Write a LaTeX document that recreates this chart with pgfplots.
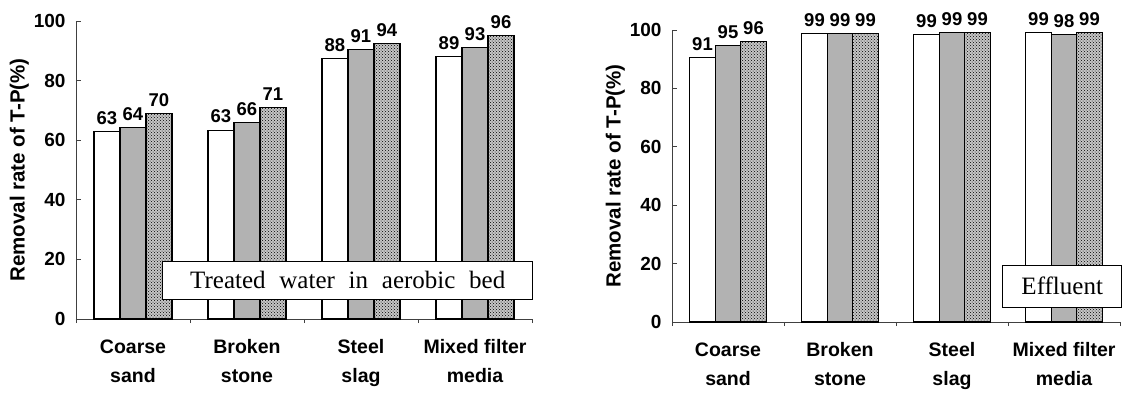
\documentclass[border=0pt]{standalone}
\usepackage{pgfplots}
\usepackage{pgfplotstable}
\pgfplotsset{compat=1.18}
\usetikzlibrary{patterns}
\usepackage{fontspec}
\setmainfont{Liberation Sans}
\newfontfamily\seriffont{Liberation Serif}

\pgfplotstableread{
x a la b lb c lc
0 62.8 63 64.3 64 69.1 70
1 63.4 63 66.0 66 70.9 71
2 87.5 88 90.5 91 92.5 94
3 88.0 89 91.2 93 95.0 96
}\leftdata

\pgfplotstableread{
x a la b lb c lc
0 90.6 91 94.6 95 96.0 96
1 98.7 99 98.7 99 98.7 99
2 98.5 99 99.2 99 99.2 99
3 99.2 99 98.6 98 99.2 99
}\rightdata

\pgfplotsset{
  panel/.style={
    scale only axis,
    axis lines*=left,
    axis line style={black!75, line width=0.8pt},
    xmin=-0.5, xmax=3.5, ymin=0, ymax=100,
    ytick={0,20,...,100},
    xtick={0,1,2,3},
    xticklabels={{Coarse\\sand},{Broken\\stone},{Steel\\slag},{Mixed filter\\media}},
    minor xtick={-0.5,0.5,1.5,2.5,3.5},
    tick align=inside,
    major x tick style={draw=none},
    major tick length=5pt,
    minor tick length=4pt,
    tick style={black!75, line width=0.8pt},
    /pgf/number format/assume math mode=true,
    yticklabel style={font=\bfseries\fontsize{19}{19}\selectfont, xshift=-7pt},
    xticklabel style={font=\bfseries\fontsize{19.5}{29}\selectfont, align=center, yshift=-12pt},
    ylabel={Removal rate of T-P(\%)},
    ylabel style={font=\bfseries\fontsize{20.5}{20.5}\selectfont, yshift=-2pt},
    ybar=0pt,
    clip=false,
    point meta=explicit symbolic,
    nodes near coords,
    every node near coord/.append style={font=\bfseries\fontsize{18.5}{18.5}\selectfont, yshift=3pt},
  },
  whitebar/.style={draw=black, line width=1.1pt, fill=white},
  graybar/.style={draw=black, line width=1.1pt, fill=gray!60},
  hatchbar/.style={draw=black, line width=1.1pt, fill=gray!45, postaction={pattern=crosshatch dots, pattern color=black}},
}

\begin{document}
\begin{tikzpicture}
\begin{axis}[panel, width=456pt, height=298pt, bar width=26pt, at={(0pt,0pt)}, anchor=south west]
\addplot[whitebar] table[x=x, y=a, meta=la] {\leftdata};
\addplot[graybar] table[x=x, y=b, meta=lb] {\leftdata};
\addplot[hatchbar] table[x=x, y=c, meta=lc] {\leftdata};
\node[draw=black, line width=0.8pt, fill=white, minimum width=370pt, minimum height=38pt, inner sep=0pt,
      font=\seriffont\fontsize{25}{25}\selectfont] at (rel axis cs:0.596,0.131)
      {Treated\hspace{0.55em}water\hspace{0.55em}in\hspace{0.55em}aerobic\hspace{0.55em}bed};
\end{axis}
\begin{axis}[panel, width=448pt, height=292pt, bar width=25.5pt, at={(596pt,-3pt)}, anchor=south west]
\addplot[whitebar] table[x=x, y=a, meta=la] {\rightdata};
\addplot[graybar] table[x=x, y=b, meta=lb] {\rightdata};
\addplot[hatchbar] table[x=x, y=c, meta=lc] {\rightdata};
\node[draw=black, line width=0.8pt, fill=white, minimum width=119pt, minimum height=42pt, inner sep=0pt,
      font=\seriffont\fontsize{25}{25}\selectfont] at (rel axis cs:0.871,0.123) {Effluent};
\end{axis}
\pgfresetboundingbox
\path (-76pt,-73pt) rectangle (1059pt,319pt);
\end{tikzpicture}
\end{document}
